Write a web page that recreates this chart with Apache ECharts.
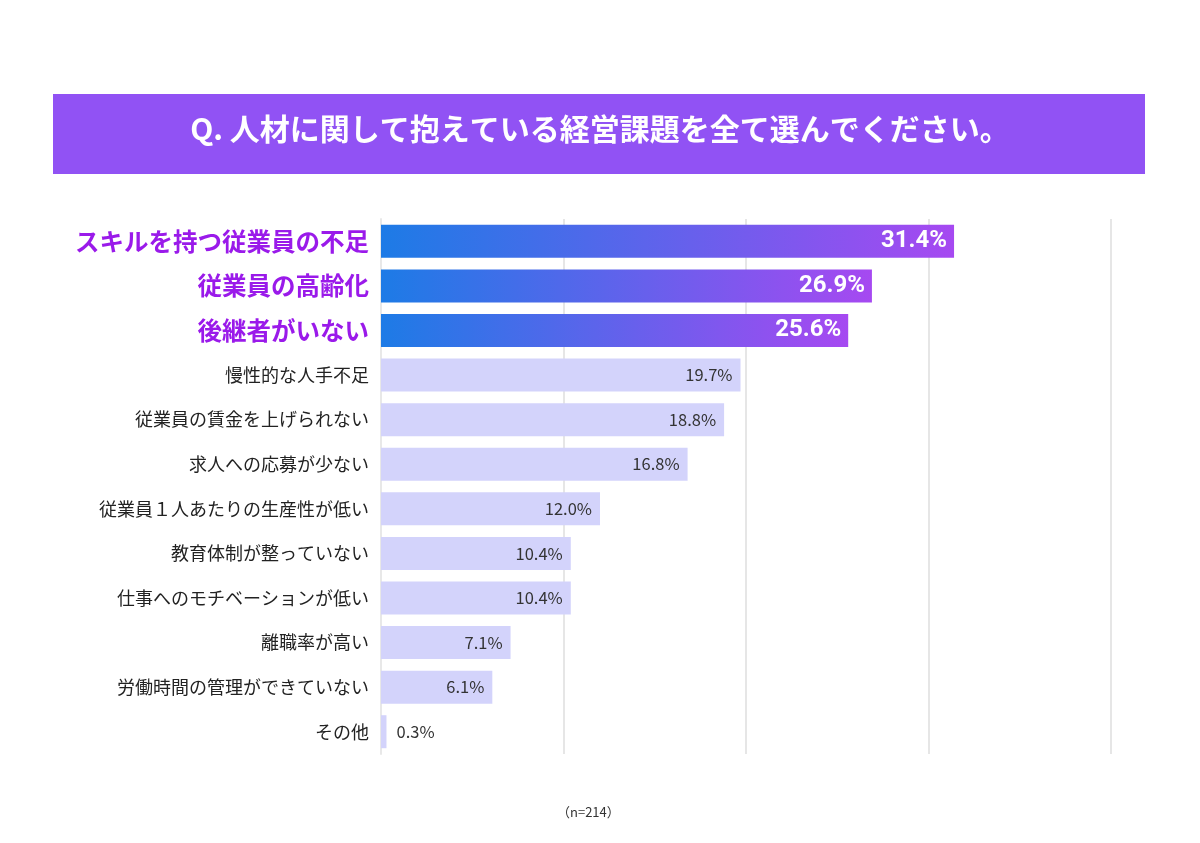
<!DOCTYPE html>
<html>
<head>
<meta charset="utf-8">
<script src="https://cdn.jsdelivr.net/npm/echarts@6/dist/echarts.min.js"></script>
<style>
  html, body { margin: 0; padding: 0; background: #fff; }
  #chart { width: 1200px; height: 843px; }
</style>
</head>
<body>
<div id="chart"></div>
<script>
// 設問と項目
var titleText = 'Q. 人材に関して抱えている経営課題を全て選んでください。';
var categories = [
    'スキルを持つ従業員の不足',
    '従業員の高齢化',
    '後継者がいない',
    '慢性的な人手不足',
    '従業員の賃金を上げられない',
    '求人への応募が少ない',
    '従業員１人あたりの生産性が低い',
    '教育体制が整っていない',
    '仕事へのモチベーションが低い',
    '離職率が高い',
    '労働時間の管理ができていない',
    'その他'
];
var values = [31.4, 26.9, 25.6, 19.7, 18.8, 16.8, 12.0, 10.4, 10.4, 7.1, 6.1, 0.3];
var topCount = 3; // 上位3項目を強調
var noteText = '（n=214）';

var chart = echarts.init(document.getElementById('chart'));

var seriesData = values.map(function (v, i) {
    if (i < topCount) {
        return {
            value: v,
            itemStyle: {
                color: new echarts.graphic.LinearGradient(0, 0, 1, 0, [
                    { offset: 0, color: '#1d7be6' },
                    { offset: 1, color: '#a649f1' }
                ])
            },
            label: {
                color: '#fff',
                fontSize: 24,
                fontWeight: 'bold',
                fontFamily: 'Roboto',
                distance: 7
            }
        };
    }
    if (v < 2) {
        return { value: v, label: { position: 'right', distance: 10 } };
    }
    return v;
});

var option = {
    backgroundColor: '#fff',
    animation: false,
    graphic: [
        {
            type: 'rect',
            shape: { x: 53, y: 94, width: 1092, height: 80 },
            style: { fill: '#9152f4' }
        },
        {
            type: 'text',
            left: 'center',
            top: 114,
            style: {
                text: titleText,
                fill: '#fff',
                fontSize: 30,
                fontWeight: 'bold',
                fontFamily: 'Noto Sans CJK JP'
            }
        },
        {
            type: 'text',
            left: 557,
            top: 806,
            style: {
                text: noteText,
                fill: '#333',
                fontSize: 13,
                fontFamily: 'Noto Sans CJK JP'
            }
        }
    ],
    grid: { left: 381, right: 89, top: 219, bottom: 89, containLabel: false },
    xAxis: {
        type: 'value',
        min: 0,
        max: 40,
        interval: 10,
        axisLabel: { show: false },
        axisLine: { show: false },
        axisTick: { show: false },
        splitLine: { lineStyle: { color: '#e6e6e6', width: 2 } }
    },
    yAxis: {
        type: 'category',
        inverse: true,
        data: categories,
        axisTick: { show: false },
        axisLine: { lineStyle: { color: '#e8e8e8', width: 2 } },
        axisLabel: {
            margin: 12,
            formatter: function (val, idx) {
                return idx < topCount ? '{hi|' + val + '}' : '{lo|' + val + '}';
            },
            rich: {
                hi: { color: '#9a1aea', fontSize: 24.5, fontWeight: 'bold', fontFamily: 'Noto Sans CJK JP' },
                lo: { color: '#222', fontSize: 18, fontFamily: 'Noto Sans CJK JP' }
            }
        }
    },
    series: [
        {
            type: 'bar',
            data: seriesData,
            barWidth: 33,
            itemStyle: { color: '#d3d3fb' },
            label: {
                show: true,
                position: 'insideRight',
                distance: 8,
                color: '#333',
                fontSize: 16.5,
                fontFamily: 'Noto Sans CJK JP',
                formatter: function (p) { return p.value.toFixed(1) + '%'; }
            }
        }
    ]
};

chart.setOption(option);
</script>
</body>
</html>
